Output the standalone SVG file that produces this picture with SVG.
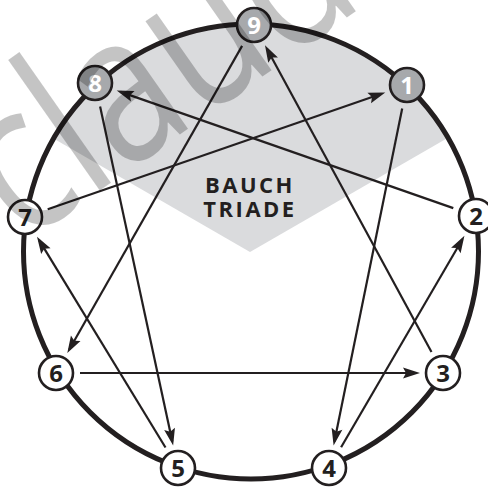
<svg xmlns="http://www.w3.org/2000/svg" width="488" height="487" viewBox="0 0 488 487">
<defs>
<style>
.ring{fill:none;stroke:#231f20;stroke-width:5}
.node{stroke:#231f20;stroke-width:2.6}
.w{fill:#ffffff}
.g{fill:#a7a9ac}
.num{font-family:"Open Sans","DejaVu Sans",sans-serif;font-weight:700;font-size:24px;text-anchor:middle}
.dk{fill:#231f20}
.lt{fill:#ffffff}
.con{stroke:#231f20;stroke-width:2.2;fill:none;marker-end:url(#ah)}
.lbl{font-family:"Open Sans","DejaVu Sans",sans-serif;font-weight:700;font-size:22px;letter-spacing:2.5px;text-anchor:middle;fill:#231f20}
.wm{font-family:"Open Sans","DejaVu Sans",sans-serif;font-weight:400;font-size:210px;fill:#000000;fill-opacity:0.23}
</style>
<marker id="ah" markerUnits="userSpaceOnUse" markerWidth="20" markerHeight="14" viewBox="-14 -7 20 14" refX="0" refY="0" orient="auto">
<path d="M4,0 L-13,-5.5 L-10,0 L-13,5.5 Z" fill="#231f20"/>
</marker>
</defs>
<rect width="488" height="487" fill="#ffffff"/>
<path id="triad" d="M53.5,138.5 A227.5,227.5 0 0 1 448,137.7 L250,252 Z" fill="#dadbdd"/>
<circle class="ring" cx="251" cy="251.5" r="227.5"/>
<g id="connectors">
<line class="con" x1="47.7" y1="209.2" x2="381.5" y2="93.8"/>
<line class="con" x1="402.2" y1="108.5" x2="334.4" y2="441.5"/>
<line class="con" x1="341.1" y1="447.3" x2="462.4" y2="239.3"/>
<line class="con" x1="453.3" y1="208.1" x2="120.5" y2="91.9"/>
<line class="con" x1="100.1" y1="106.5" x2="172.3" y2="441.6"/>
<line class="con" x1="165.5" y1="447.5" x2="39.1" y2="240.1"/>
<line class="con" x1="431.5" y1="351.9" x2="266.9" y2="48.7"/>
<line class="con" x1="242.1" y1="45.9" x2="69.3" y2="349.5"/>
<line class="con" x1="80" y1="373" x2="416" y2="373"/>
</g>
<g id="n9"><circle class="node g" cx="254" cy="25" r="17"/><text class="num lt" x="254" y="33.5">9</text></g>
<g id="n1"><circle class="node g" cx="407" cy="85" r="17"/><text class="num lt" x="407" y="93.5">1</text></g>
<g id="n2"><circle class="node w" cx="476" cy="216" r="17"/><text class="num dk" x="476" y="224.5">2</text></g>
<g id="n3"><circle class="node w" cx="443" cy="373" r="17"/><text class="num dk" x="443" y="381.5">3</text></g>
<g id="n4"><circle class="node w" cx="329" cy="468" r="17"/><text class="num dk" x="329" y="476.5">4</text></g>
<g id="n5"><circle class="node w" cx="178" cy="468" r="17"/><text class="num dk" x="178" y="476.5">5</text></g>
<g id="n6"><circle class="node w" cx="56" cy="373" r="17"/><text class="num dk" x="56" y="381.5">6</text></g>
<g id="n7"><circle class="node w" cx="25" cy="217" r="17"/><text class="num dk" x="25" y="225.5">7</text></g>
<g id="n8"><circle class="node g" cx="95" cy="83" r="17"/><text class="num lt" x="95" y="91.5">8</text></g>
<g id="label"><text class="lbl" x="250" y="193">BAUCH</text><text class="lbl" x="250" y="217">TRIADE</text></g>
<text class="wm" transform="translate(22,245) rotate(-35) scale(0.8,1)">claudia</text>
</svg>
